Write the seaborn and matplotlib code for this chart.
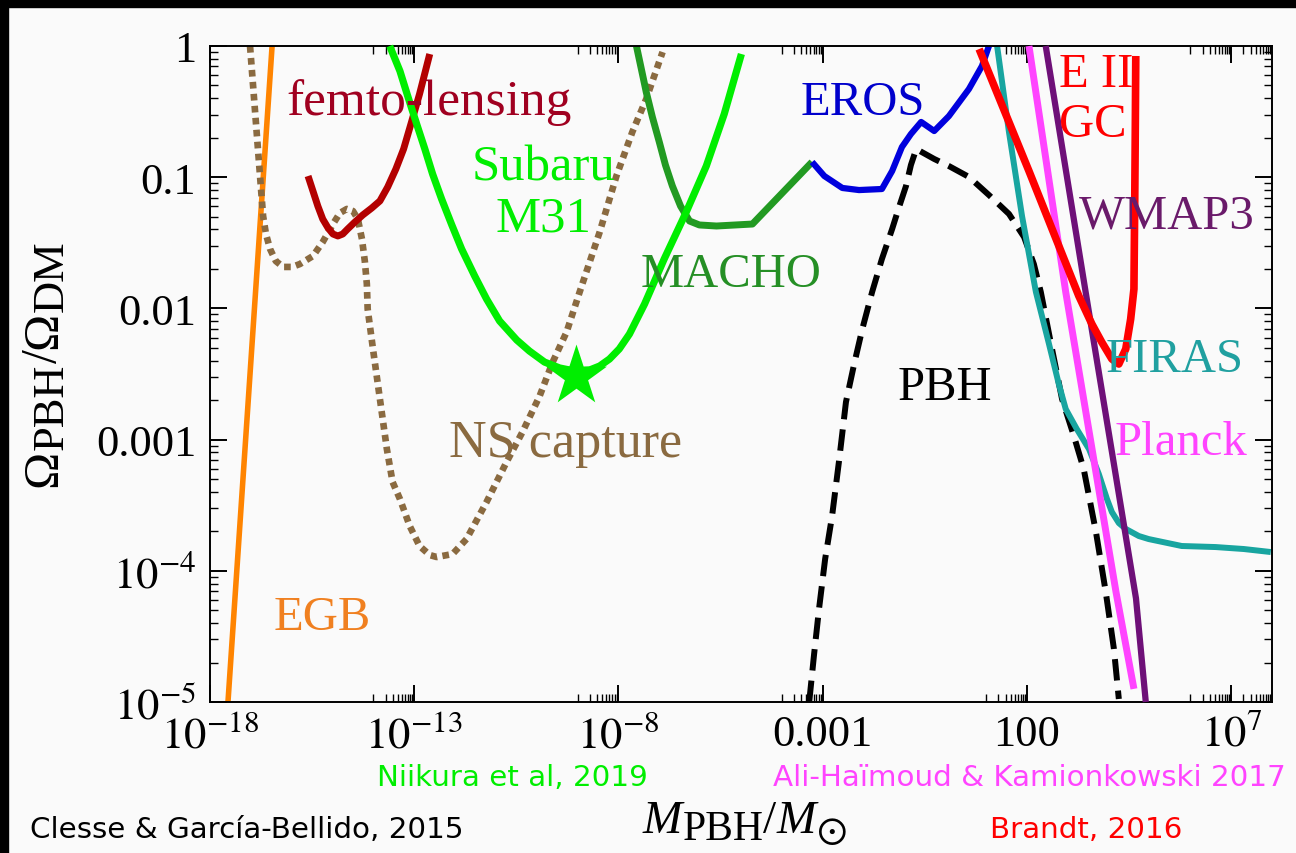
import numpy as np
import matplotlib
matplotlib.use("Agg")
import matplotlib.pyplot as plt
import seaborn as sns
from matplotlib.patches import Rectangle
from matplotlib.ticker import FixedLocator, FixedFormatter, NullFormatter

# ---------------- data (log10 M_PBH/M_sun, log10 Omega_PBH/Omega_DM) ----------------
egb_logm = [-17.56, -16.48]
egb_logf = [-5.0, 0.0]

ns_logm = [-17.02, -16.70, -16.63, -16.53, -16.39, -16.21, -15.99, -15.80, -15.48, -15.24,
           -14.99, -14.82, -14.65, -14.50, -14.38, -14.28, -14.21, -14.16, -14.14, -14.01,
           -13.84, -13.67, -13.53, -13.35, -13.11, -12.87, -12.62, -12.45, -12.06, -11.72,
           -11.23, -10.74, -10.35, -9.93, -9.61, -9.27, -8.95, -8.46, -8.05, -7.66,
           -7.32, -6.92]
ns_logf = [0.0, -1.296, -1.433, -1.547, -1.639, -1.684, -1.684, -1.662, -1.601, -1.494,
           -1.357, -1.273, -1.242, -1.258, -1.319, -1.471, -1.639, -1.814, -2.005, -2.309,
           -2.691, -3.072, -3.323, -3.453, -3.659, -3.811, -3.880, -3.895, -3.872, -3.758,
           -3.476, -3.171, -2.942, -2.668, -2.409, -2.180, -1.875, -1.418, -0.991, -0.655,
           -0.404, -0.046]

femto_logm = [-15.60, -15.48, -15.36, -15.24, -15.11, -14.99, -14.87, -14.75, -14.63, -14.45,
              -14.26, -14.04, -13.84, -13.65, -13.45, -13.26, -13.06, -12.87, -12.62]
femto_logf = [-0.991, -1.105, -1.220, -1.319, -1.387, -1.433, -1.448, -1.433, -1.395, -1.341,
              -1.288, -1.235, -1.181, -1.075, -0.938, -0.785, -0.572, -0.366, -0.061]

subaru_logm = [-13.60, -13.35, -13.16, -12.94, -12.74, -12.55, -12.33, -12.08, -11.84, -11.52,
               -11.23, -10.91, -10.49, -10.18, -9.81, -9.44, -9.08, -8.71, -8.46, -8.22,
               -7.98, -7.73, -7.36, -6.88, -6.34, -5.85, -5.41, -4.99]
subaru_logf = [0.0, -0.191, -0.381, -0.595, -0.785, -0.976, -1.166, -1.364, -1.547, -1.753,
               -1.928, -2.096, -2.241, -2.325, -2.409, -2.454, -2.477, -2.470, -2.439, -2.386,
               -2.309, -2.195, -1.966, -1.623, -1.265, -0.915, -0.518, -0.061]
subaru_star_logm = [-9.03]
subaru_star_logf = [-2.515]

macho_logm = [-7.56, -7.44, -7.32, -7.17, -7.00, -6.85, -6.68, -6.48, -6.26, -6.02,
              -5.60, -4.72, -3.26]
macho_logf = [0.0, -0.175, -0.351, -0.541, -0.732, -0.907, -1.067, -1.220, -1.334, -1.364,
              -1.372, -1.357, -0.884]

eros_logm = [-3.26, -2.96, -2.52, -2.11, -1.55, -1.30, -1.06, -0.84, -0.59, -0.27,
             0.09, 0.58, 0.90, 1.07]
eros_logf = [-0.884, -0.991, -1.082, -1.098, -1.090, -0.953, -0.770, -0.671, -0.579, -0.648,
             -0.534, -0.328, -0.152, 0.0]

pbh_logm = [-3.33, -3.21, -3.09, -2.94, -2.77, -2.60, -2.43, -2.23, -2.03, -1.79,
            -1.55, -1.30, -1.13, -0.96, -0.84, -0.71, -0.27, 0.09, 0.58, 1.07,
            1.56, 1.93, 2.17, 2.34, 2.59, 2.86, 3.15, 3.39, 3.69, 3.93, 4.13, 4.25]
pbh_logf = [-5.0, -4.634, -4.291, -3.910, -3.582, -3.163, -2.713, -2.424, -2.157, -1.875,
            -1.623, -1.395, -1.227, -1.067, -0.907, -0.785, -0.861, -0.915, -0.998, -1.136,
            -1.280, -1.456, -1.662, -1.875, -2.271, -2.691, -2.973, -3.224, -3.704, -4.162,
            -4.596, -4.977]

firas_logm = [1.27, 1.56, 1.88, 2.22, 2.54, 2.78, 2.95, 3.22, 3.52, 3.76, 3.96, 4.08,
              4.25, 4.42, 4.74, 4.98, 5.79, 6.62, 7.31, 7.97]
firas_logf = [0.0, -0.655, -1.296, -1.875, -2.271, -2.576, -2.767, -2.919, -3.072, -3.262,
              -3.453, -3.552, -3.636, -3.681, -3.735, -3.758, -3.811, -3.819, -3.834, -3.857]

planck_logm = [2.05, 2.95, 4.18, 4.62]
planck_logf = [0.0, -1.875, -4.16, -4.90]

wmap_logm = [2.46, 3.44, 4.67, 4.91]
wmap_logf = [0.0, -1.88, -4.21, -5.0]

eii_logm = [0.83, 2.05, 3.27, 3.59, 3.83, 4.08, 4.25, 4.42, 4.54, 4.62, 4.64, 4.655, 4.665]
eii_logf = [-0.023, -0.953, -1.905, -2.119, -2.256, -2.386, -2.424, -2.309, -2.081, -1.852,
            -1.166, -0.556, -0.076]

xtick_vals = [1e-18, 1e-13, 1e-8, 1e-3, 1e2, 1e7]
xtick_labels = [r"$10^{-18}$", r"$10^{-13}$", r"$10^{-8}$", "0.001", "100", r"$10^{7}$"]
ytick_vals = [1e-5, 1e-4, 1e-3, 1e-2, 1e-1, 1]
ytick_labels = [r"$10^{-5}$", r"$10^{-4}$", "0.001", "0.01", "0.1", "1"]

# ---------------- style ----------------
sns.set_theme(style="ticks")
SERIF = ["Liberation Serif", "DejaVu Serif"]
plt.rcParams["font.family"] = SERIF
plt.rcParams["mathtext.fontset"] = "stix"

W, H = 1296, 854
fig = plt.figure(figsize=(W / 100, H / 100), dpi=100)
BG = "#fafafa"
fig.patch.set_facecolor(BG)
fig.add_artist(Rectangle((0, 1 - 8 / H), 1, 8 / H, transform=fig.transFigure,
                         color="black", zorder=10))
fig.add_artist(Rectangle((0, 0), 8 / W, 1, transform=fig.transFigure,
                         color="black", zorder=10))

L, R, T, B = 210, 1272, 47, 703
ax = fig.add_axes([L / W, 1 - B / H, (R - L) / W, (B - T) / H])
ax.set_facecolor(BG)
ax.set_xscale("log")
ax.set_yscale("log")
ax.set_xlim(1e-18, 1e8)
ax.set_ylim(1e-5, 1)


def curve(lm, lf, color, lw=4.5, ls="-", z=2):
    sns.lineplot(x=np.power(10.0, lm), y=np.power(10.0, lf), ax=ax, color=color,
                 linewidth=lw, linestyle=ls, sort=False, estimator=None,
                 legend=False, zorder=z, clip_on=False, solid_capstyle="butt",
                 solid_joinstyle="round", dash_joinstyle="round")


curve(egb_logm, egb_logf, "#ff8400", 4.0)
curve(ns_logm, ns_logf, "#8a6a40", 4.8, (0, (1.0, 0.8)), 2)
curve(femto_logm, femto_logf, "#b30000", 5.0, "-", 3)
curve(macho_logm, macho_logf, "#229a22", 5.0, "-", 2)
curve(eros_logm, eros_logf, "#0000dd", 4.5, "-", 2)
curve(subaru_logm, subaru_logf, "#00ee00", 5.2, "-", 3)
curve(pbh_logm, pbh_logf, "black", 4.3, (0, (3.6, 1.7)), 2)
curve(firas_logm, firas_logf, "#18a5a0", 4.3, "-", 2)
curve(planck_logm, planck_logf, "#ff44ff", 5.0, "-", 3)
curve(wmap_logm, wmap_logf, "#6e1078", 4.5, "-", 3)
curve(eii_logm, eii_logf, "#ff0000", 5.5, "-", 4)

sns.scatterplot(x=np.power(10.0, subaru_star_logm), y=np.power(10.0, subaru_star_logf),
                ax=ax, marker="*", s=46 ** 2, color="#00ee00", linewidth=0,
                zorder=5, legend=False, clip_on=False)

# ---------------- ticks ----------------
ax.xaxis.set_major_locator(FixedLocator(xtick_vals))
ax.xaxis.set_major_formatter(FixedFormatter(xtick_labels))
xminor = [m * v / 10 for v in xtick_vals for m in range(1, 10)] + [m * 1e7 for m in range(1, 10)]
ax.xaxis.set_minor_locator(FixedLocator(xminor))
ax.xaxis.set_minor_formatter(NullFormatter())
ax.yaxis.set_major_locator(FixedLocator(ytick_vals))
ax.yaxis.set_major_formatter(FixedFormatter(ytick_labels))
yminor = [m * 10.0 ** e for e in range(-5, 0) for m in range(2, 10)]
ax.yaxis.set_minor_locator(FixedLocator(yminor))
ax.yaxis.set_minor_formatter(NullFormatter())
ax.tick_params(which="both", direction="in", top=True, right=True, color="black")
ax.tick_params(which="major", length=12, width=1.4, labelsize=32, labelcolor="black")
ax.tick_params(which="minor", length=6, width=1.0)
ax.tick_params(axis="x", which="major", pad=9)
ax.tick_params(axis="y", which="major", pad=10)
for s in ax.spines.values():
    s.set_color("black")
    s.set_linewidth(1.4)

# ---------------- labels in plot ----------------
def lab(lm, lf, s, color, ha="center", size=35):
    ax.text(10 ** lm, 10 ** lf, s, color=color, ha=ha, va="baseline", fontsize=size,
            zorder=6)


lab(-16.12, -0.518, "femto-lensing", "#a00020", ha="left", size=37)
lab(-9.83, -1.014, "Subaru", "#00ee00", size=36.5)
lab(-9.83, -1.41, "M31", "#00ee00", size=36.5)
lab(-5.24, -1.83, "MACHO", "#258f25")
lab(-2.01, -0.518, "EROS", "#0000cc")
lab(2.78, -0.305, "E II", "#ff0000", ha="left")
lab(2.78, -0.686, "GC", "#ff0000", ha="left")
lab(5.42, -1.38, "WMAP3", "#6a1a6a")
lab(5.61, -2.477, "FIRAS", "#20a0a0")
lab(0.0, -2.69, "PBH", "black")
lab(5.78, -3.11, "Planck", "#ff44ff")
lab(-9.30, -3.125, "NS capture", "#8a6a40", size=37.5)
lab(-15.26, -4.44, "EGB", "#f08020")

# ---------------- axis labels built from pieces (large subscripts) ----------------
renderer = fig.canvas.get_renderer()


def compose(parts, x, y, vertical=False):
    """parts: (text, size, style, drop_px). x, y: pixel position of baseline start."""
    pos = 0.0
    for txt, size, style, drop in parts:
        if not vertical:
            t = fig.text((x + pos) / W, 1 - (y + drop) / H, txt, fontsize=size,
                         style=style, ha="left", va="baseline", color="black",
                         family=SERIF)
            pos += t.get_window_extent(renderer).width
        else:
            t = fig.text((x + drop) / W, 1 - (y - pos) / H, txt, fontsize=size,
                         style=style, rotation=90, rotation_mode="anchor",
                         ha="left", va="baseline", color="black", family=SERIF)
            pos += t.get_window_extent(renderer).height


compose([("M", 34, "italic", 0), ("PBH", 30, "normal", 7), ("/", 34, "normal", 0),
         ("M", 34, "italic", 0), (r"$\odot$", 29, "normal", 9)], 643, 833)
compose([("Ω", 36, "normal", 0), ("PBH", 32, "normal", 7), ("/", 36, "normal", 0),
         ("Ω", 36, "normal", 0), ("DM", 32, "normal", 7)], 56, 487, vertical=True)

# credits
sans = ["DejaVu Sans"]
fs = 21.2
fig.text(377 / W, 1 - 786 / H, "Niikura et al, 2019", color="#00ee00", fontsize=fs,
         family=sans, ha="left", va="baseline")
fig.text(773 / W, 1 - 786 / H, "Ali-Haïmoud & Kamionkowski 2017", color="#ff44ff",
         fontsize=fs, family=sans, ha="left", va="baseline")
fig.text(30 / W, 1 - 838 / H, "Clesse & García-Bellido, 2015", color="black",
         fontsize=fs, family=sans, ha="left", va="baseline")
fig.text(990 / W, 1 - 838 / H, "Brandt, 2016", color="#ff0000", fontsize=fs,
         family=sans, ha="left", va="baseline")

fig.savefig("out.png", dpi=100, facecolor=fig.get_facecolor())
